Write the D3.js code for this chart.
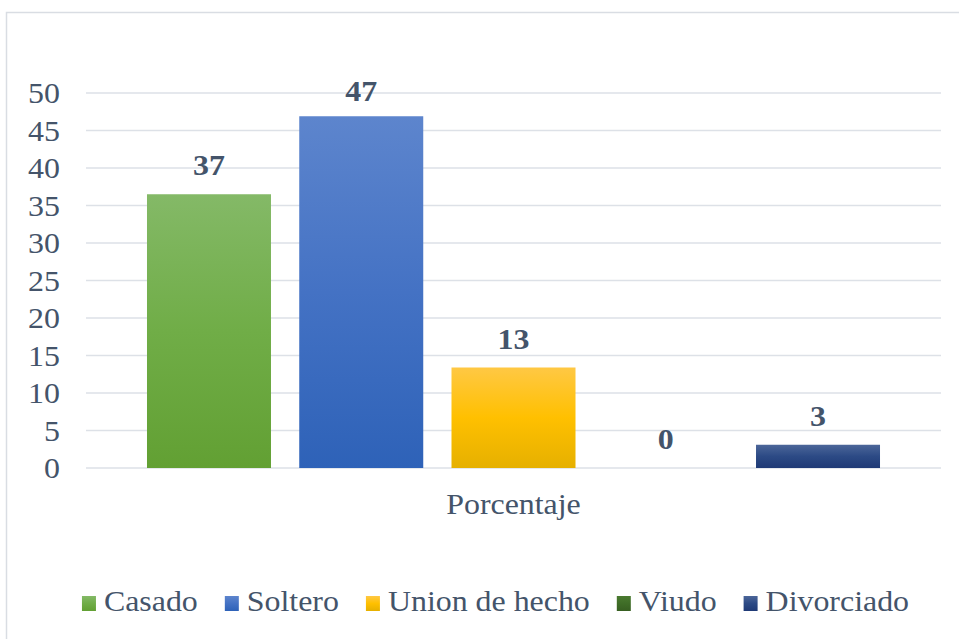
<!DOCTYPE html>
<html>
<head>
<meta charset="utf-8">
<script src="https://cdnjs.cloudflare.com/ajax/libs/d3/7.8.5/d3.min.js"></script>
<style>
  body { margin: 0; background: #fff; }
</style>
</head>
<body>
<svg id="chart"></svg>
<script>
"use strict";

const category = "Porcentaje";
const series = ["Casado", "Soltero", "Union de hecho", "Viudo", "Divorciado"];
const values = [36.5, 46.9, 13.4, 0, 3.1];
const yTicks = [0, 5, 10, 15, 20, 25, 30, 35, 40, 45, 50];
// top / middle / bottom colour of each bar gradient
const colorsTop = ["#84b967", "#5d85cd", "#ffc844", "#4a7a30", "#4c6699"];
const colorsMid = ["#70ad47", "#4472c4", "#ffc000", "#3f6d27", "#2c4a85"];
const colorsBottom = ["#62a033", "#2e62b8", "#e6b000", "#375f21", "#1f3a76"];

const WIDTH = 959, HEIGHT = 639;
const TEXT_COLOR = "#44546a";
const GRID_COLOR = "#dde1e7";
const FONT = "'Liberation Serif', 'Times New Roman', serif";
const FONT_SIZE = 29;
const STRETCH = 1.1;   // text in the reference is a bit wider than tall

const svg = d3.select("#chart")
    .attr("width", WIDTH)
    .attr("height", HEIGHT);

// write a text at (x, y), slightly widened
function addText(parent, x, y, str, anchor = "start", bold = false) {
    return parent.append("text")
        .attr("transform", `translate(${x},${y}) scale(${STRETCH},1)`)
        .attr("text-anchor", anchor)
        .style("font-family", FONT)
        .style("font-size", FONT_SIZE + "px")
        .style("font-weight", bold ? "bold" : "normal")
        .attr("fill", TEXT_COLOR)
        .text(str);
}

// outer chart border
svg.append("rect")
    .attr("x", 6.5)
    .attr("y", 12.5)
    .attr("width", WIDTH + 10)
    .attr("height", HEIGHT + 10)
    .attr("fill", "none")
    .attr("stroke", "#d9dde3")
    .attr("stroke-width", 1.5);

const plot = { left: 86, right: 941, top: 93, bottom: 468 };

const yScale = d3.scaleLinear()
    .domain([0, 50])
    .range([plot.bottom, plot.top]);

const xGroup = d3.scaleBand()
    .domain([category])
    .range([plot.left, plot.right])
    .paddingInner(0)
    .paddingOuter(0.0832);

const xBar = d3.scaleBand()
    .domain(series)
    .range([xGroup(category), xGroup(category) + xGroup.bandwidth()])
    .paddingInner(0.1856)
    .paddingOuter(0);

// gradients
const defs = svg.append("defs");
series.forEach((s, i) => {
    const g = defs.append("linearGradient")
        .attr("id", "grad" + i)
        .attr("x1", 0).attr("y1", 0)
        .attr("x2", 0).attr("y2", 1);
    g.append("stop").attr("offset", "0%").attr("stop-color", colorsTop[i]);
    g.append("stop").attr("offset", "50%").attr("stop-color", colorsMid[i]);
    g.append("stop").attr("offset", "100%").attr("stop-color", colorsBottom[i]);
});

// gridlines
svg.append("g")
    .selectAll("line")
    .data(yTicks)
    .join("line")
    .attr("x1", plot.left)
    .attr("x2", plot.right)
    .attr("y1", d => yScale(d))
    .attr("y2", d => yScale(d))
    .attr("stroke", GRID_COLOR)
    .attr("stroke-width", 1.5);

// y axis labels
const yAxis = svg.append("g");
yTicks.forEach(t => addText(yAxis, 60, yScale(t) + 10, t, "end"));

// bars
svg.append("g")
    .selectAll("rect")
    .data(values)
    .join("rect")
    .attr("x", (d, i) => xBar(series[i]))
    .attr("width", xBar.bandwidth())
    .attr("y", d => yScale(d))
    .attr("height", d => yScale(0) - yScale(d))
    .attr("fill", (d, i) => `url(#grad${i})`);

// value labels, kept inside the plot area
const labels = svg.append("g");
values.forEach((d, i) => {
    const y = Math.max(yScale(d) - 19, 101);
    addText(labels, xBar(series[i]) + xBar.bandwidth() / 2, y, d3.format(".0f")(d), "middle", true);
});

// category label
addText(svg, xGroup(category) + xGroup.bandwidth() / 2, 514, category, "middle");

// legend
const legend = svg.append("g");
let cursor = 0;
series.forEach((s, i) => {
    const item = legend.append("g").attr("transform", `translate(${cursor},611)`);
    item.append("rect")
        .attr("width", 14)
        .attr("height", 15)
        .attr("y", -15)
        .attr("fill", `url(#grad${i})`);
    const t = addText(item, 22, 0, s);
    cursor += 22 + t.node().getBBox().width * STRETCH + 27;
});
const legendWidth = cursor - 27;
legend.attr("transform", `translate(${495.5 - legendWidth / 2},0)`);
</script>
</body>
</html>
